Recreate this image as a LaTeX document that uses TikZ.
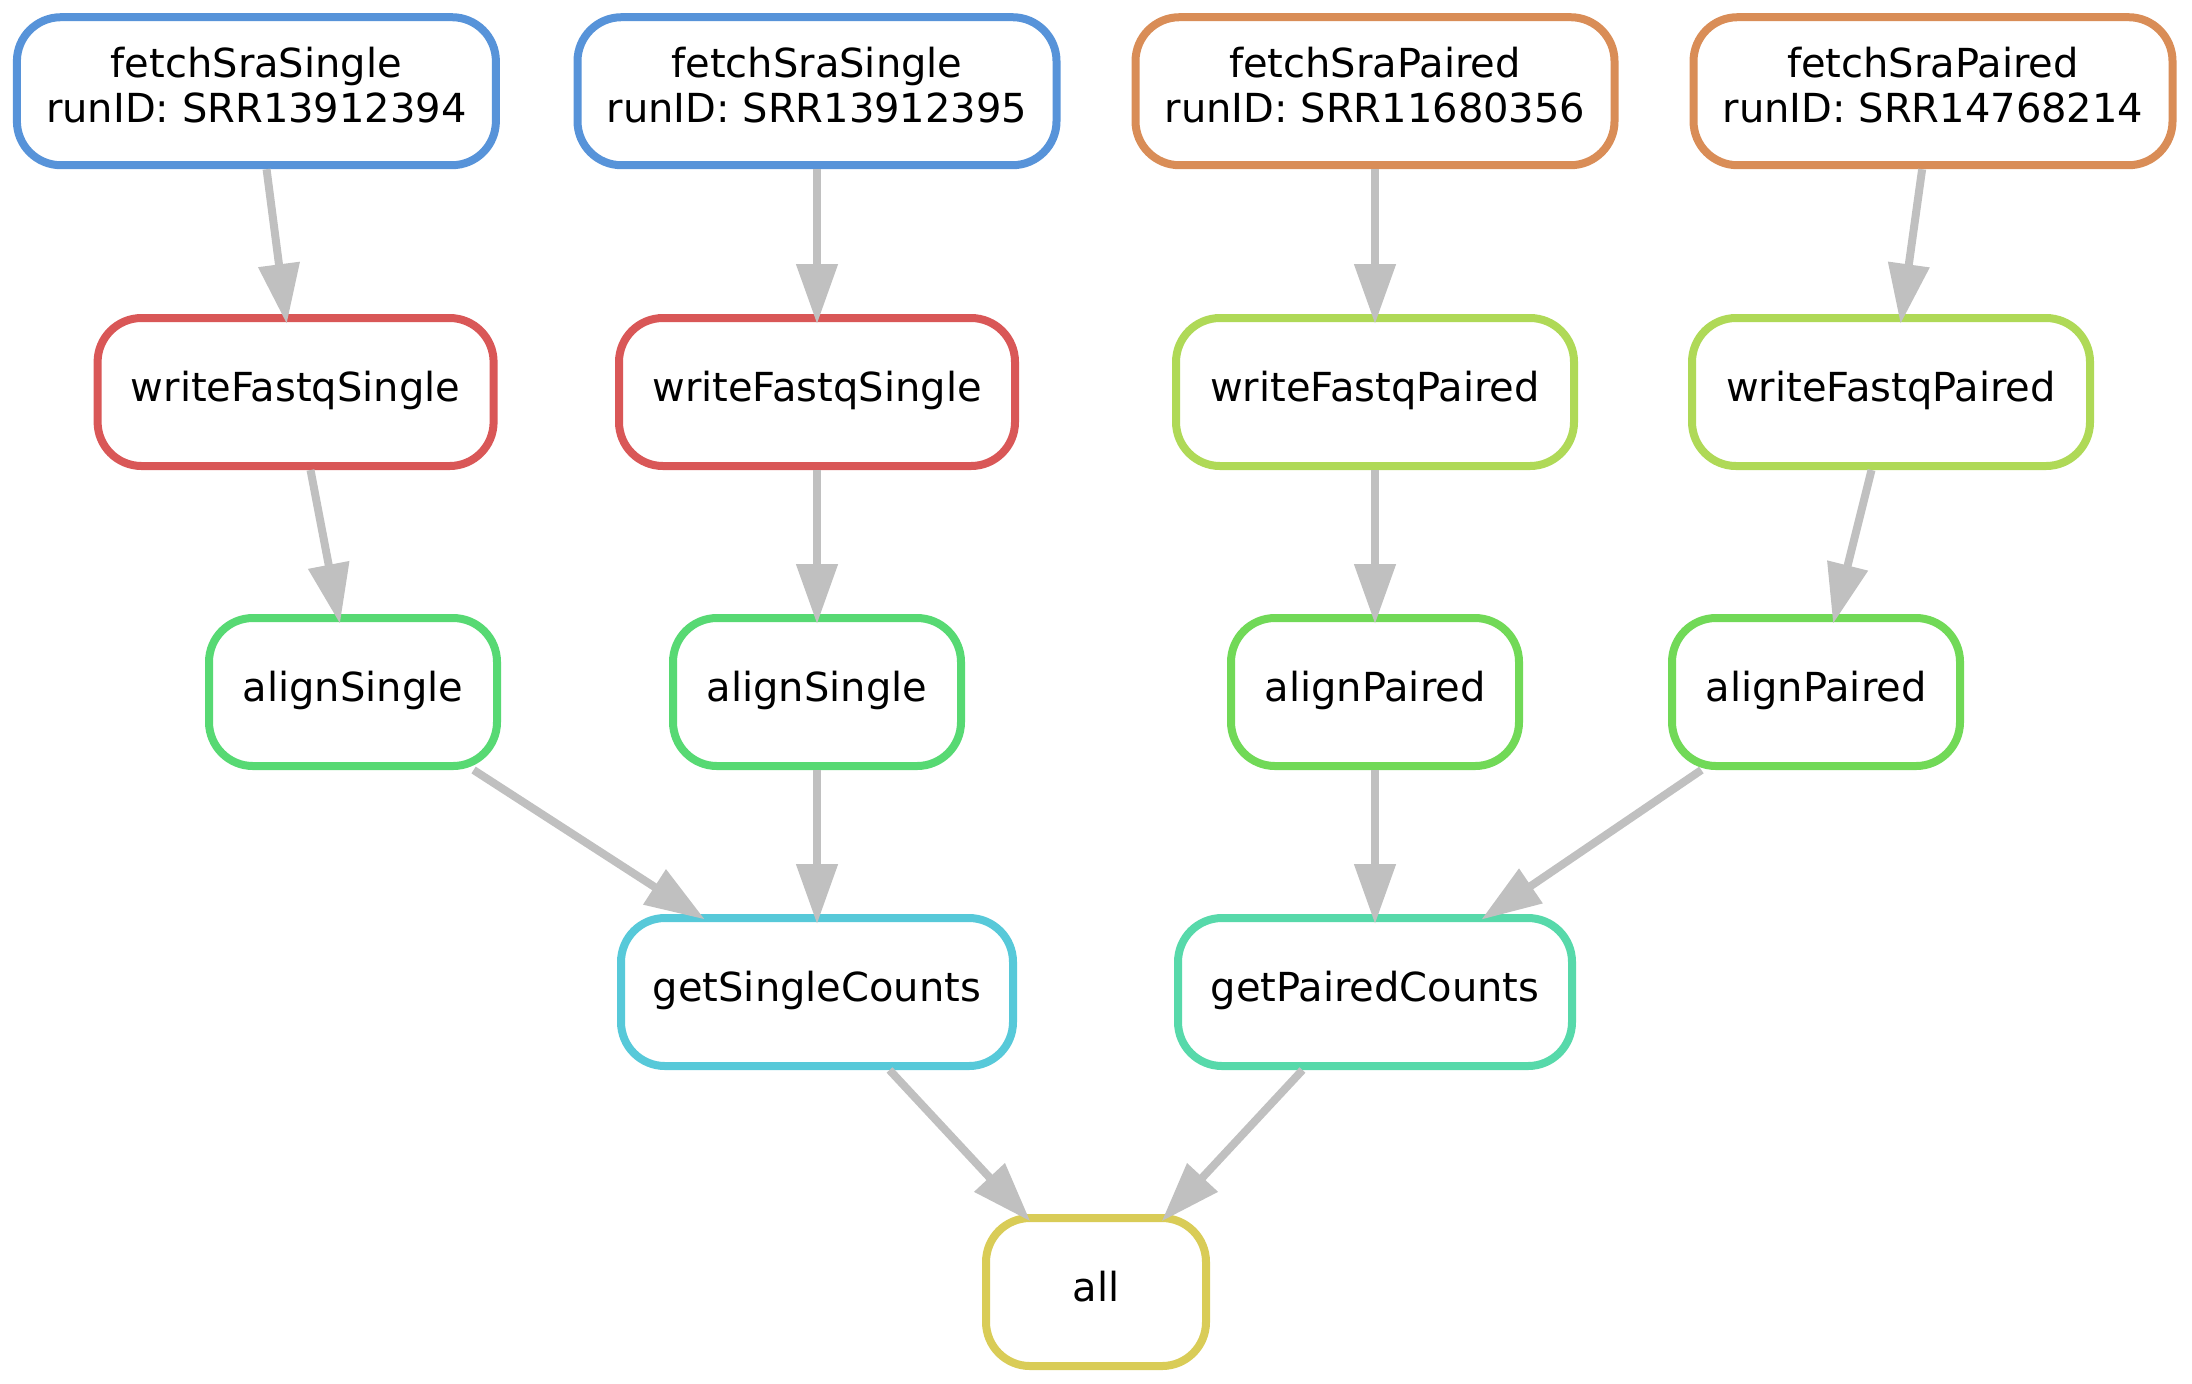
\documentclass[tikz,border=0pt]{standalone}
\usepackage{fontspec}
\setmainfont{DejaVu Sans}
\usetikzlibrary{arrows.meta}

\definecolor{fetchsingle}{HTML}{5793D9}
\definecolor{fetchpaired}{HTML}{D98D57}
\definecolor{writesingle}{HTML}{D95757}
\definecolor{writepaired}{HTML}{AFD957}
\definecolor{alignsingle}{HTML}{57D973}
\definecolor{alignpaired}{HTML}{71D957}
\definecolor{countsingle}{HTML}{57C9D9}
\definecolor{countpaired}{HTML}{57D9AA}
\definecolor{allrule}{HTML}{D9CC57}
\definecolor{edgegrey}{HTML}{C0C0C0}

\begin{document}
\begin{tikzpicture}[x=1pt, y=-1pt,
	rulebox/.style={draw, line width=2pt, rounded corners=11pt, fill=white,
		minimum height=37pt, inner sep=0pt, align=center,
		font=\fontsize{10}{11.2}\selectfont},
	oneline/.style={text height=7.3pt, text depth=2.4pt},
	edge/.style={draw=edgegrey, line width=2pt,
		-{Triangle[length=15pt,width=10pt]}, shorten >=-2.5pt}]
			\useasboundingbox (0,0) rectangle (548,345.75);
			
			%fetch rules
			\node (fetchSingleA) at (64.1, 22.8) [rulebox, draw=fetchsingle, minimum width=119.75pt]{fetchSraSingle\\runID: SRR13912394\rule[-3.4pt]{0pt}{3.4pt}};
			\node (fetchSingleB) at (204.25, 22.8) [rulebox, draw=fetchsingle, minimum width=119.75pt]{fetchSraSingle\\runID: SRR13912395\rule[-3.4pt]{0pt}{3.4pt}};
			\node (fetchPairedA) at (343.75, 22.8) [rulebox, draw=fetchpaired, minimum width=119.75pt]{fetchSraPaired\\runID: SRR11680356\rule[-3.4pt]{0pt}{3.4pt}};
			\node (fetchPairedB) at (483.25, 22.8) [rulebox, draw=fetchpaired, minimum width=119.75pt]{fetchSraPaired\\runID: SRR14768214\rule[-3.4pt]{0pt}{3.4pt}};
			
			%write rules
			\node (writeSingleA) at (73.9, 98) [rulebox, oneline, draw=writesingle, minimum width=99pt]{writeFastqSingle};
			\node (writeSingleB) at (204.25, 98) [rulebox, oneline, draw=writesingle, minimum width=99pt]{writeFastqSingle};
			\node (writePairedA) at (343.75, 98) [rulebox, oneline, draw=writepaired, minimum width=99.5pt]{writeFastqPaired};
			\node (writePairedB) at (472.75, 98) [rulebox, oneline, draw=writepaired, minimum width=99.5pt]{writeFastqPaired};
			
			%align rules
			\node (alignSingleA) at (88.25, 173) [rulebox, oneline, draw=alignsingle, minimum width=72pt]{alignSingle};
			\node (alignSingleB) at (204.25, 173) [rulebox, oneline, draw=alignsingle, minimum width=72pt]{alignSingle};
			\node (alignPairedA) at (343.75, 173) [rulebox, oneline, draw=alignpaired, minimum width=72pt]{alignPaired};
			\node (alignPairedB) at (454, 173) [rulebox, oneline, draw=alignpaired, minimum width=72pt]{alignPaired};
			
			%count rules
			\node (countSingle) at (204.25, 248) [rulebox, oneline, draw=countsingle, minimum width=98pt]{getSingleCounts};
			\node (countPaired) at (343.75, 248) [rulebox, oneline, draw=countpaired, minimum width=98.5pt]{getPairedCounts};
			
			\node (all) at (274, 323) [rulebox, oneline, draw=allrule, minimum width=55pt]{all};
			
			%dependencies
			\foreach \a/\b in {fetchSingleA/writeSingleA, fetchSingleB/writeSingleB,
				fetchPairedA/writePairedA, fetchPairedB/writePairedB,
				writeSingleA/alignSingleA, writeSingleB/alignSingleB,
				writePairedA/alignPairedA, writePairedB/alignPairedB,
				alignSingleA/countSingle, alignSingleB/countSingle,
				alignPairedA/countPaired, alignPairedB/countPaired,
				countSingle/all, countPaired/all}{
				\draw[edge] (\a) -- (\b);
			}
		\end{tikzpicture}
\end{document}
